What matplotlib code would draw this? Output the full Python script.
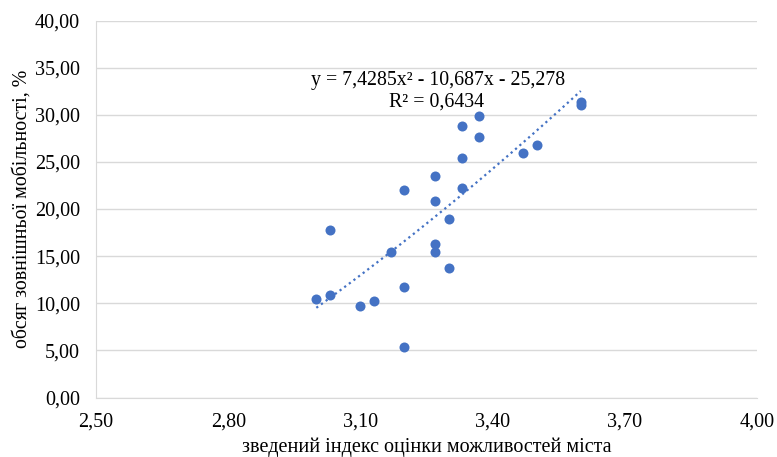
import numpy as np
import matplotlib.pyplot as plt

plt.rcParams['font.family'] = ['Liberation Serif', 'DejaVu Serif']

# дані: зведений індекс та обсяг зовнішньої мобільності
index_x = [3.00, 3.03, 3.03, 3.10, 3.13, 3.17, 3.20, 3.20, 3.20, 3.27, 3.27, 3.27,
           3.27, 3.30, 3.30, 3.33, 3.33, 3.33, 3.37, 3.37, 3.47, 3.50, 3.60, 3.60]
mobility_y = [10.4, 10.9, 17.8, 9.7, 10.2, 15.4, 22.0, 11.7, 5.4, 23.5, 20.8, 16.3,
              15.4, 18.9, 13.7, 28.8, 25.4, 22.2, 29.9, 27.6, 25.9, 26.8, 31.0, 31.3]
trend_coef = [7.4285, -10.687, -25.278]
eq_text = "y = 7,4285x² - 10,687x - 25,278"
r2_text = "R² = 0,6434"
x_ticks = [2.50, 2.80, 3.10, 3.40, 3.70, 4.00]
y_ticks = [0, 5, 10, 15, 20, 25, 30, 35, 40]

blue = '#4472C4'
W, H = 777, 457
left, right, top, bottom = 96, 757, 20.5, 397.5

fig = plt.figure(figsize=(W / 100, H / 100), dpi=100)
ax = fig.add_axes([left/W, 1 - bottom/H, (right-left)/W, (bottom-top)/H])

ax.scatter(index_x, mobility_y, s=52, color=blue, zorder=3, linewidths=0)

xs = np.linspace(min(index_x), max(index_x), 100)
ax.plot(xs, np.polyval(trend_coef, xs), color=blue, linestyle=(0, (1, 1.6)), linewidth=1.6, zorder=2)

# підпис лінії тренду (координати в пікселях від верхнього краю)
fig.text(438/W, 1 - 80/H, eq_text, fontsize=14.3, ha='center', va='center')
fig.text(437/W, 1 - 102/H, r2_text, fontsize=14.3, ha='center', va='center')

ax.set_xlim(2.5, 4.0)
ax.set_ylim(0, 40)
ax.set_xticks(x_ticks)
ax.set_yticks(y_ticks)
ax.set_xticklabels([f"{v:.2f}".replace('.', ',') for v in x_ticks])
ax.set_yticklabels([f"{v:.2f}".replace('.', ',') for v in y_ticks])
ax.tick_params(axis='x', length=0, labelsize=14.5, pad=11)
ax.tick_params(axis='y', length=0, labelsize=14.5, pad=11.5)
ax.grid(axis='y', color='#D9D9D9', linewidth=1)
ax.set_axisbelow(True)
for side in ['top', 'right']:
    ax.spines[side].set_visible(False)
ax.spines['left'].set_color('#D9D9D9')
ax.spines['bottom'].set_color('#D9D9D9')

ax.set_xlabel("зведений індекс оцінки можливостей міста", fontsize=14.5, va='center')
ax.xaxis.set_label_coords(0.5, (bottom - 447) / (bottom - top))
ax.set_ylabel("обсяг зовнішньої мобільності, %", fontsize=14.3, va='center')
ax.yaxis.set_label_coords((22 - left) / (right - left), 0.5)

fig.savefig("out.png", dpi=100)
